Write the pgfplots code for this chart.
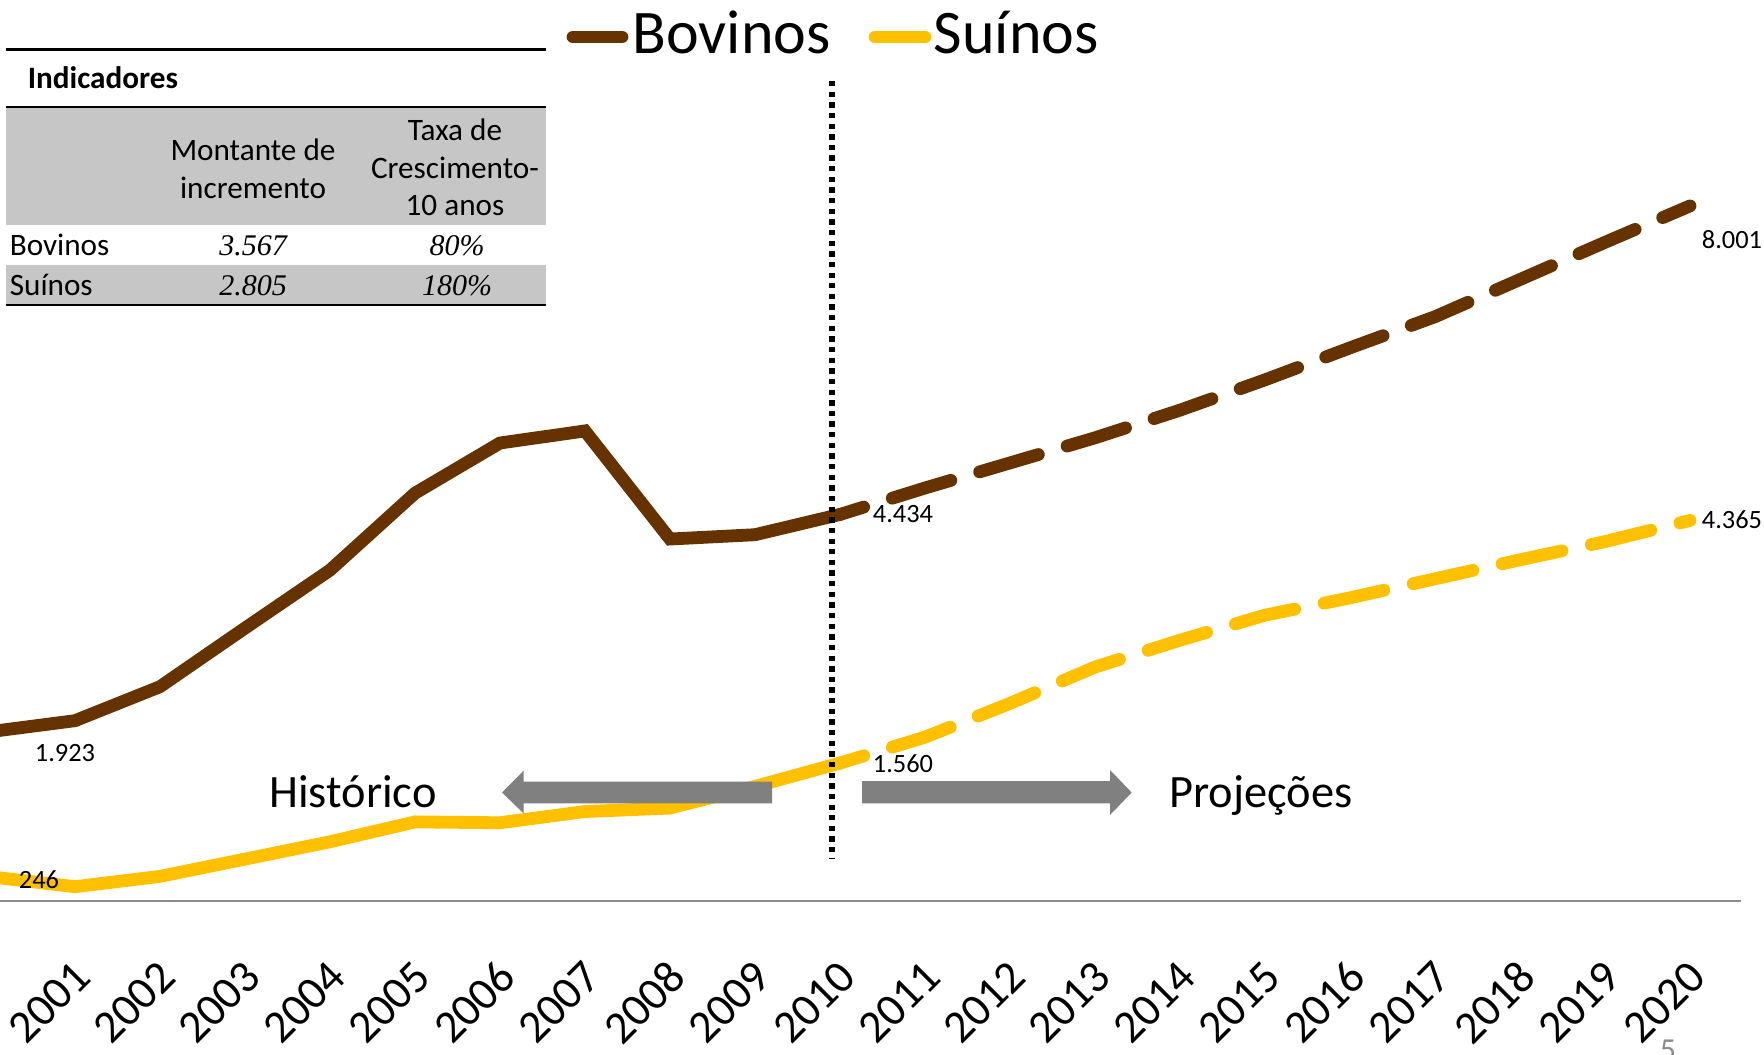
\documentclass[border=0pt]{standalone}
\usepackage{fontspec}
\setmainfont{Carlito}
\newfontfamily\timesfont{Liberation Serif}
\usepackage{pgfplots}
\pgfplotsset{compat=1.18}
\definecolor{bov}{HTML}{663300}
\definecolor{sui}{HTML}{FFC000}
\definecolor{arrgray}{HTML}{808080}
\definecolor{axgray}{HTML}{8C8C8C}
\definecolor{tabfill}{HTML}{C6C6C6}
\newcommand{\fs}[1]{\fontsize{#1}{1.2\dimexpr#1pt\relax}\selectfont}
\begin{document}
\begin{tikzpicture}
\begin{axis}[
  scale only axis, width=435.24pt, height=225.25pt,
  xmin=2000.118, xmax=2020.6, ymin=-0.0347, ymax=10.3815,
  axis x line*=bottom, axis y line=none,
  x axis line style={draw=axgray, line width=0.6pt, -},
  ytick=\empty,
  xtick={2001,2002,2003,2004,2005,2006,2007,2008,2009,2010,2011,2012,2013,2014,2015,2016,2017,2018,2019,2020},
  xticklabels={2001,2002,2003,2004,2005,2006,2007,2008,2009,2010,2011,2012,2013,2014,2015,2016,2017,2018,2019,2020},
  major tick length=0pt,
  xticklabel style={xshift=2pt, yshift=-16.9pt, rotate=45, anchor=east, inner sep=0pt, font=\fs{11.5}},
  clip mode=individual,
  no marks,
]
\addplot[color=bov, line width=3.2pt, line cap=round, line join=miter] coordinates {
(2000,1.923)(2001,2.050)(2002,2.443)(2003,3.12)(2004,3.79)(2005,4.68)(2006,5.26)(2007,5.40)(2008,4.15)(2009,4.20)(2010,4.434)};
\addplot[color=bov, line width=3.2pt, line cap=round, line join=round, dash pattern=on 15.3pt off 7.5pt, dash phase=9.1pt] coordinates {
(2010,4.434)(2011,4.74)(2012,5.03)(2013,5.32)(2014,5.64)(2015,5.99)(2016,6.36)(2017,6.72)(2018,7.15)(2019,7.58)(2020,8.001)};
\addplot[color=sui, line width=3.2pt, line cap=round, line join=miter] coordinates {
(2000,0.246)(2001,0.131)(2002,0.25)(2003,0.45)(2004,0.65)(2005,0.88)(2006,0.87)(2007,1.00)(2008,1.04)(2009,1.29)(2010,1.560)};
\addplot[color=sui, line width=3.2pt, line cap=round, line join=round, dash pattern=on 15.3pt off 7.5pt, dash phase=9.1pt] coordinates {
(2010,1.560)(2011,1.86)(2012,2.25)(2013,2.67)(2014,2.98)(2015,3.27)(2016,3.47)(2017,3.69)(2018,3.91)(2019,4.12)(2020,4.365)};
\end{axis}
\begin{scope}[shift={(0pt,225.25pt)}, x=0.25pt, y=-0.25pt]
% arrows
\fill[arrgray] (772,781.7) -- (523.5,781.7) -- (523.5,770.7) -- (502,792.5) -- (523.5,813.3) -- (523.5,803.3) -- (772,803.3) -- cycle;
\fill[arrgray] (862,781) -- (1110,781) -- (1110,770) -- (1131.7,792.5) -- (1110,815) -- (1110,803.3) -- (862,803.3) -- cycle;
\node[anchor=base, inner sep=0pt, font=\fs{11.6}] at (353,807) {Histórico};
\node[anchor=base, inner sep=0pt, font=\fs{11.6}] at (1261,807) {Projeções};
% dotted divider
\draw[black, line width=1.33pt, dash pattern=on 1.33pt off 1.33pt] (832,81) -- (832,858);
% data labels
\node[inner sep=0pt, font=\fs{6.6}] at (65,753) {1.923};
\node[inner sep=0pt, font=\fs{6.6}] at (39,880) {246};
\node[inner sep=0pt, font=\fs{6.6}] at (903,514) {4.434};
\node[inner sep=0pt, font=\fs{6.6}] at (903,764) {1.560};
\node[inner sep=0pt, font=\fs{6.6}] at (1732,240) {8.001};
\node[inner sep=0pt, font=\fs{6.6}] at (1732,520) {4.365};
% legend
\draw[bov, line width=3.2pt, line cap=round] (573,37) -- (622,37);
\node[anchor=base west, inner sep=0pt, font=\fs{15.5}] at (632,53) {Bovinos};
\draw[sui, line width=3.2pt, line cap=round] (875,37) -- (925,37);
\node[anchor=base west, inner sep=0pt, font=\fs{15.5}] at (933,53) {Suínos};
% table
\fill[tabfill] (6,107) rectangle (546,225);
\fill[tabfill] (6,265) rectangle (546,304);
\draw[black, line width=0.7pt] (6,49.3) -- (546,49.3);
\draw[black, line width=0.7pt] (6,107) -- (546,107);
\draw[black, line width=0.7pt] (6,305) -- (546,305);
\node[anchor=base west, inner sep=0pt, font=\fs{7.8}\bfseries] at (27,88) {Indicadores};
\node[align=center, inner sep=0pt, font={\fontsize{7.8}{9.5}\selectfont}] at (253,169) {Montante de\\incremento};
\node[align=center, inner sep=0pt, font={\fontsize{7.8}{9.4}\selectfont}] at (455,167.5) {Taxa de\\Crescimento-\\10 anos};
\node[anchor=base west, inner sep=0pt, font=\fs{7.8}] at (9,255) {Bovinos};
\node[anchor=base west, inner sep=0pt, font=\fs{7.8}] at (9,295) {Suínos};
\node[anchor=base, inner sep=0pt, font=\fs{7.5}\timesfont\itshape] at (253,255) {3.567};
\node[anchor=base, inner sep=0pt, font=\fs{7.5}\timesfont\itshape] at (457,255) {80\%};
\node[anchor=base, inner sep=0pt, font=\fs{7.5}\timesfont\itshape] at (253,295) {2.805};
\node[anchor=base, inner sep=0pt, font=\fs{7.5}\timesfont\itshape] at (457,295) {180\%};
% page number
\node[anchor=north, inner sep=0pt, text=axgray, font=\fs{8}] at (1668,1039) {5};
% final page frame
\pgfresetboundingbox
\path[use as bounding box] (0,0) rectangle (1764,1054);
\end{scope}
\end{tikzpicture}
\end{document}
